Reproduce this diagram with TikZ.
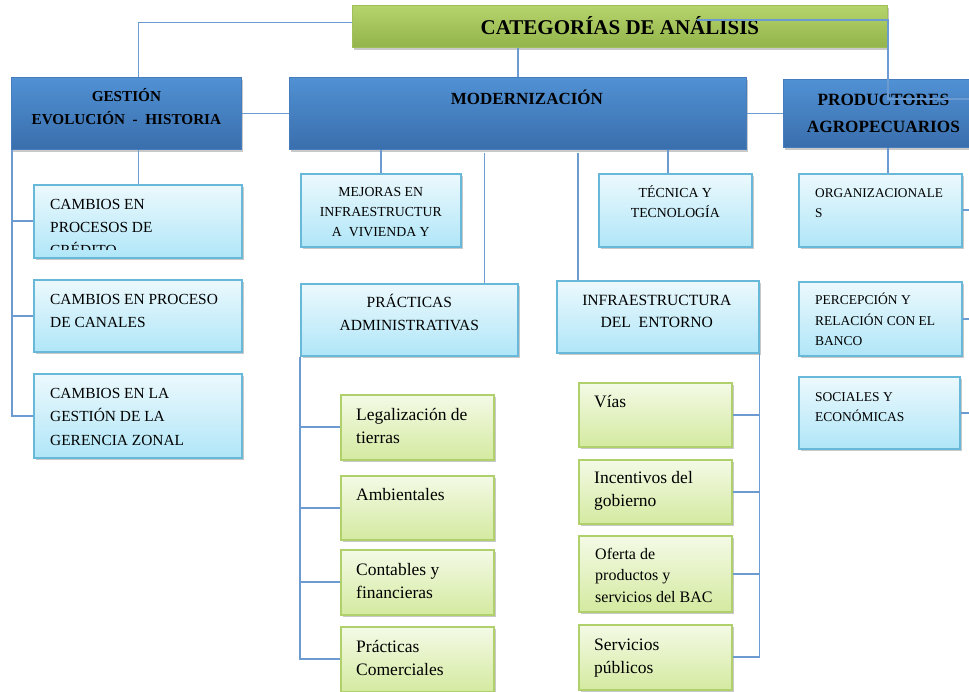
\documentclass[tikz,border=0pt]{standalone}
\usepackage{fontspec}
\setmainfont{Liberation Serif}
\usepackage{tikz}
\usetikzlibrary{calc,shadows,positioning}
\definecolor{linec}{RGB}{108,155,210}
\definecolor{titT}{RGB}{182,212,108}
\definecolor{titB}{RGB}{146,180,74}
\definecolor{titD}{RGB}{160,190,90}
\definecolor{headT}{RGB}{80,145,212}
\definecolor{headB}{RGB}{58,110,172}
\definecolor{headD}{RGB}{70,125,190}
\definecolor{subT}{RGB}{236,249,253}
\definecolor{subB}{RGB}{176,230,248}
\definecolor{subD}{RGB}{104,184,218}
\definecolor{leafT}{RGB}{244,250,230}
\definecolor{leafB}{RGB}{212,234,160}
\definecolor{leafD}{RGB}{176,208,108}

\begin{document}
\begin{tikzpicture}[x=1pt,y=-1pt,
  conn/.style={draw=linec, line width=1.7pt},
  shade/.style={drop shadow={shadow xshift=2pt,shadow yshift=-2.5pt,opacity=0.3,fill=black!70}},
  titlebox/.style={shade, top color=titT, bottom color=titB, draw=titD, line width=0.8pt, anchor=north west, inner sep=0pt},
  headbox/.style={shade, top color=headT, bottom color=headB, draw=headD, line width=0.8pt, anchor=north west, inner sep=0pt},
  subbox/.style={shade, top color=subT, bottom color=subB, draw=subD, line width=1.6pt, anchor=north west, inner sep=0pt},
  leafbox/.style={shade, top color=leafT, bottom color=leafB, draw=leafD, line width=1.6pt, anchor=north west, inner sep=0pt},
  ltxt/.style={anchor=base west, inner sep=0pt, align=left},
  ctxt/.style={anchor=base, inner sep=0pt, align=center}]
\useasboundingbox (0,0) rectangle (969,692);

% title and top row
\node[titlebox, minimum width=535pt, minimum height=42pt,
  label={[ctxt, font=\fontsize{21}{25}\selectfont\bfseries, yshift=-30pt]north:CATEGORÍAS DE ANÁLISIS}] (title) at (352,5) {};
\node[headbox, minimum width=230pt, minimum height=72pt,
  label={[ctxt, font=\fontsize{15.2}{23}\selectfont\bfseries, yshift=-48pt]north:GESTIÓN\\EVOLUCIÓN~~-~~HISTORIA}] (gest) at (11,77) {};
\node[headbox, minimum width=457pt, minimum height=72pt,
  label={[ctxt, font=\fontsize{17}{22}\selectfont\bfseries, xshift=9pt, yshift=-28pt]north:MODERNIZACIÓN}] (mod) at (289,77) {};
\node[headbox, minimum width=200pt, minimum height=68pt,
  label={[ctxt, font=\fontsize{17.2}{27}\selectfont\bfseries, yshift=-54pt]north:PRODUCTORES\\AGROPECUARIOS}] (prod) at (783,79) {};

% gestion
\node[subbox, minimum width=208pt, minimum height=73pt] (camb1) at (33,184) {};
\begin{scope}
  \clip (camb1.north west) rectangle ([yshift=9pt]camb1.south east);
  \node[ltxt, font=\fontsize{15.4}{23}\selectfont] (camb1t) at ([xshift=17pt,yshift=-72pt]camb1.north west) {CAMBIOS EN\\PROCESOS DE\\CRÉDITO};
\end{scope}
\node[subbox, minimum width=208pt, minimum height=72pt,
  label={[ltxt, font=\fontsize{15.4}{23}\selectfont, xshift=17pt, yshift=-49pt]north west:CAMBIOS EN PROCESO\\DE CANALES}] (camb2) at (33,279) {};
\node[subbox, minimum width=208pt, minimum height=84pt,
  label={[ltxt, font=\fontsize{15.4}{23.5}\selectfont, xshift=17pt, yshift=-72pt]north west:CAMBIOS EN LA\\GESTIÓN DE LA\\GERENCIA ZONAL}] (camb3) at (33,373) {};

% modernizacion
\node[subbox, minimum width=160pt, minimum height=73pt,
  label={[ctxt, font=\fontsize{13.8}{20}\selectfont, yshift=-64pt]north:MEJORAS EN\\INFRAESTRUCTUR\\A~~VIVIENDA Y}] (mej) at (300,173) {};
\node[subbox, minimum width=153pt, minimum height=73pt,
  label={[ctxt, font=\fontsize{13.8}{20}\selectfont, yshift=-45pt]north:TÉCNICA Y\\TECNOLOGÍA}] (tec) at (598,173) {};
\node[subbox, minimum width=217pt, minimum height=72pt,
  label={[ctxt, font=\fontsize{15.5}{23}\selectfont, yshift=-48pt]north:PRÁCTICAS\\ADMINISTRATIVAS}] (pract) at (300,283) {};
\node[subbox, minimum width=202pt, minimum height=72pt,
  label={[ctxt, font=\fontsize{15.6}{22}\selectfont, xshift=-1pt, yshift=-48pt]north:INFRAESTRUCTURA\\DEL~~ENTORNO}] (infra) at (556,280) {};

\node[leafbox, minimum width=153pt, minimum height=65pt,
  label={[ltxt, font=\fontsize{17.5}{23}\selectfont, xshift=16pt, yshift=-49pt]north west:Legalización de\\tierras}] (legal) at (340,394) {};
\node[leafbox, minimum width=153pt, minimum height=64pt,
  label={[ltxt, font=\fontsize{17.5}{23}\selectfont, xshift=16pt, yshift=-25pt]north west:Ambientales}] (amb) at (340,475) {};
\node[leafbox, minimum width=153pt, minimum height=65pt,
  label={[ltxt, font=\fontsize{17.5}{23}\selectfont, xshift=16pt, yshift=-49pt]north west:Contables y\\financieras}] (cont) at (340,549) {};
\node[leafbox, minimum width=153pt, minimum height=65pt,
  label={[ltxt, font=\fontsize{17.5}{23}\selectfont, xshift=16pt, yshift=-49pt]north west:Prácticas\\Comerciales}] (com) at (340,626) {};

\node[leafbox, minimum width=153pt, minimum height=64pt,
  label={[ltxt, font=\fontsize{17.5}{23}\selectfont, xshift=16pt, yshift=-25pt]north west:Vías}] (vias) at (578,382) {};
\node[leafbox, minimum width=153pt, minimum height=64pt,
  label={[ltxt, font=\fontsize{17.5}{23}\selectfont, xshift=16pt, yshift=-47pt]north west:Incentivos del\\gobierno}] (inc) at (578,459) {};
\node[leafbox, minimum width=153pt, minimum height=76pt,
  label={[ltxt, font=\fontsize{16}{21.5}\selectfont, xshift=17pt, yshift=-67pt]north west:Oferta de\\productos y\\servicios del BAC}] (ofer) at (578,535) {};
\node[leafbox, minimum width=153pt, minimum height=65pt,
  label={[ltxt, font=\fontsize{17.5}{23}\selectfont, xshift=16pt, yshift=-49pt]north west:Servicios\\públicos}] (serv) at (578,624) {};

% productores
\node[subbox, minimum width=163pt, minimum height=73pt,
  label={[ltxt, font=\fontsize{13.3}{20}\selectfont, xshift=17pt, yshift=-45pt]north west:ORGANIZACIONALE\\S}] (org) at (798,173) {};
\node[subbox, minimum width=163pt, minimum height=74pt,
  label={[ltxt, font=\fontsize{13.5}{20.5}\selectfont, xshift=17pt, yshift=-65pt]north west:PERCEPCIÓN Y\\RELACIÓN CON EL\\BANCO}] (perc) at (798,281) {};
\node[subbox, minimum width=161pt, minimum height=72pt,
  label={[ltxt, font=\fontsize{13.5}{20}\selectfont, xshift=17pt, yshift=-45pt]north west:SOCIALES Y\\ECONÓMICAS}] (soc) at (798,376) {};

% connectors
\coordinate (g1) at ([xshift=12pt]gest.north);
\coordinate (t2) at ([xshift=345pt,yshift=-15pt]title.north west);
\coordinate (p1) at ([xshift=105pt,yshift=-20pt]prod.north west);
\coordinate (rx) at (975,0);
\coordinate (pa) at ([xshift=-34pt]pract.north east);
\coordinate (ia) at ([xshift=22pt]infra.north west);
\draw[conn] ([yshift=4pt]title.west) -| (g1);
\draw[conn] (mod.north) -- (mod.north |- title.south);
\draw[conn] (t2) -| (p1) -- (p1 -| rx) |- (org.east);
\draw[conn] (p1 -| rx) |- (perc.east);
\draw[conn] (p1 -| rx) |- (soc.east);
\draw[conn] (gest.east) -- (gest.east -| mod.west);
\draw[conn] (mod.east) -- (mod.east -| prod.west);
\draw[conn] (g1 |- gest.south) -- (g1 |- camb1.north);
\draw[conn] ([xshift=1pt]gest.south west) |- (camb1.west);
\draw[conn] ([xshift=1pt]gest.south west) |- (camb2.west);
\draw[conn] ([xshift=1pt]gest.south west) |- (camb3.west);
\draw[conn] (mej.north) -- (mej.north |- mod.south);
\draw[conn] ([xshift=-7pt]tec.north) -- ([xshift=-7pt]tec.north |- mod.south);
\draw[conn] (pa) -- ([yshift=-3pt]pa |- mod.south);
\draw[conn] (ia) -- ([yshift=-3pt]ia |- mod.south);
\draw[conn] ([xshift=8pt]org.north) -- ([xshift=8pt]org.north |- prod.south);
\draw[conn] (pract.south west) |- (legal.west);
\draw[conn] (pract.south west) |- (amb.west);
\draw[conn] (pract.south west) |- (cont.west);
\draw[conn] (pract.south west) |- (com.west);
\draw[conn] (infra.south east) |- (vias.east);
\draw[conn] (infra.south east) |- (inc.east);
\draw[conn] (infra.south east) |- (ofer.east);
\draw[conn] (infra.south east) |- (serv.east);
\end{tikzpicture}
\end{document}
